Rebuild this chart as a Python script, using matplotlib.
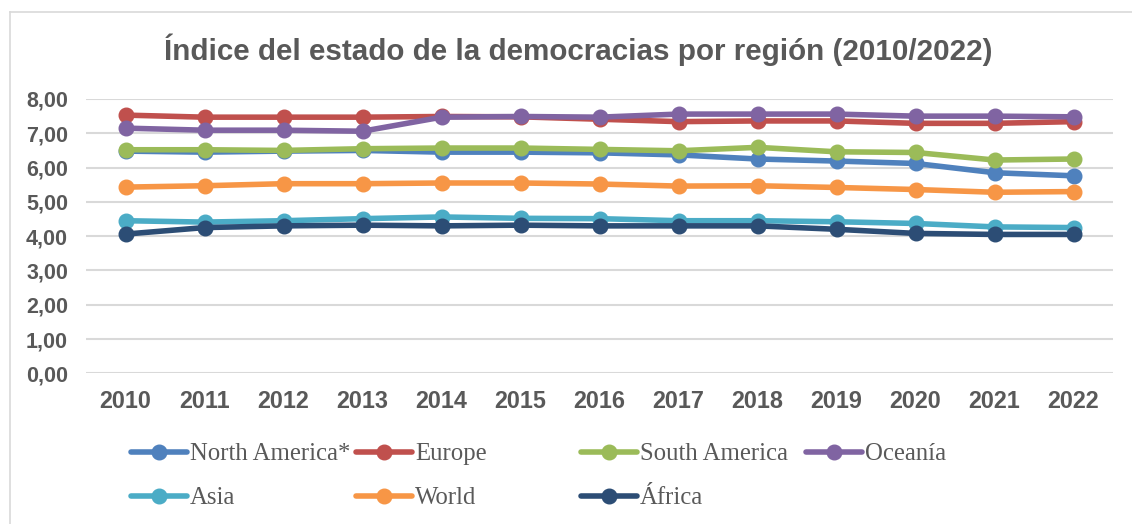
import matplotlib
matplotlib.use("Agg")
import matplotlib.pyplot as plt
from matplotlib.lines import Line2D

years = ["2010", "2011", "2012", "2013", "2014", "2015", "2016",
         "2017", "2018", "2019", "2020", "2021", "2022"]

north_america = [6.48, 6.45, 6.48, 6.50, 6.45, 6.45, 6.43, 6.37, 6.25, 6.19, 6.12, 5.85, 5.76]
europe        = [7.53, 7.47, 7.47, 7.47, 7.49, 7.48, 7.41, 7.34, 7.36, 7.36, 7.29, 7.29, 7.34]
south_america = [6.52, 6.52, 6.50, 6.55, 6.57, 6.57, 6.53, 6.49, 6.59, 6.46, 6.44, 6.22, 6.25]
oceania       = [7.15, 7.09, 7.09, 7.06, 7.47, 7.49, 7.47, 7.56, 7.56, 7.56, 7.50, 7.50, 7.48]
asia          = [4.45, 4.41, 4.45, 4.51, 4.56, 4.52, 4.51, 4.45, 4.45, 4.42, 4.37, 4.27, 4.25]
world         = [5.43, 5.47, 5.53, 5.53, 5.55, 5.55, 5.52, 5.46, 5.47, 5.42, 5.36, 5.28, 5.30]
africa        = [4.06, 4.25, 4.30, 4.32, 4.30, 4.32, 4.30, 4.30, 4.30, 4.20, 4.08, 4.05, 4.05]

series_names = ["North America*", "Europe", "South America", "Oceanía", "Asia", "World", "África"]
series_values = [north_america, europe, south_america, oceania, asia, world, africa]
series_colors = ["#4F81BD", "#C0504D", "#9BBB59", "#8064A2", "#4BACC6", "#F79646", "#2C4D75"]

y_ticks = [0, 1, 2, 3, 4, 5, 6, 7, 8]
title = "Índice del estado de la democracias por región (2010/2022)"

W, H = 1132, 524
fig = plt.figure(figsize=(W / 100, H / 100), dpi=100)

# chart area border (top and left visible)
fig.add_artist(Line2D([10 / W, 1.0], [1 - 12 / H, 1 - 12 / H], color="#D9D9D9", lw=1.2))
fig.add_artist(Line2D([10 / W, 10 / W], [0, 1 - 12 / H], color="#D9D9D9", lw=1.2))

ax = fig.add_axes([86 / W, (H - 373.3) / H, (1113 - 86) / W, (373.3 - 99) / H])
x = list(range(len(years)))
for name, vals, col in zip(series_names, series_values, series_colors):
    ax.plot(x, vals, color=col, lw=4, marker="o", markersize=10.5,
            markerfacecolor=col, markeredgecolor=col, label=name, zorder=3,
            solid_capstyle="round")

ax.set_xlim(-0.5, len(years) - 0.5)
ax.set_ylim(0, 8)
ax.set_yticks(y_ticks)
ax.set_yticklabels([f"{v:.2f}".replace(".", ",") for v in y_ticks])
ax.set_xticks(x)
ax.set_xticklabels(years)
for s in ax.spines.values():
    s.set_visible(False)
ax.grid(axis="y", color="#D9D9D9", lw=1.5, zorder=0)
ax.set_axisbelow(True)
ax.tick_params(axis="y", length=0, pad=13, labelsize=15.5, labelcolor="#595959")
ax.tick_params(axis="x", length=0, pad=12, labelsize=16.8, labelcolor="#595959")
for lab in ax.get_yticklabels() + ax.get_xticklabels():
    lab.set_fontweight("bold")
    lab.set_fontfamily("Liberation Sans")

fig.text(578 / W, 1 - 60 / H, title, ha="center", va="baseline",
         fontsize=21.3, fontweight="bold", color="#595959", family="Liberation Sans")

# legend entries in Excel-like fixed grid
col_x = [131, 356, 581, 806]
row_y = [454, 498]
positions = [(0, 0), (1, 0), (2, 0), (3, 0), (0, 1), (1, 1), (2, 1)]
lines = ax.get_lines()
fs = 17.8
for line, (c, r) in zip(lines, positions):
    leg = fig.legend([line], [line.get_label()], loc="center left",
                     bbox_to_anchor=(col_x[c] / W, 1 - row_y[r] / H),
                     frameon=False, borderpad=0, borderaxespad=0,
                     handlelength=56 / (fs * 100 / 72), handletextpad=0.12,
                     numpoints=1, prop={"family": "Liberation Serif", "size": fs})
    for t in leg.get_texts():
        t.set_color("#595959")

fig.savefig("out.png", dpi=100)
